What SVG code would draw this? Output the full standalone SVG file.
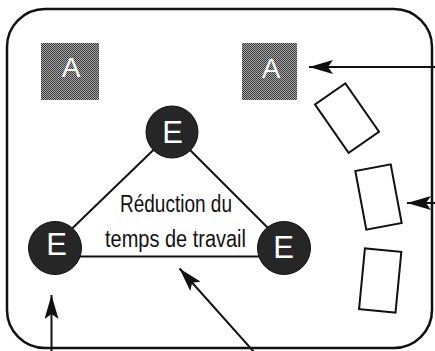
<svg xmlns="http://www.w3.org/2000/svg" width="435" height="351" viewBox="0 0 435 351">
  <style>
    .frame { fill: #fff; stroke: #111; stroke-width: 2.5; }
    .shade { fill: url(#stipple); }
    .alabel { font-family: "Liberation Sans", Arial, sans-serif; font-size: 28px; fill: #fff; text-anchor: middle; }
    .enode { fill: #262626; stroke: #111; stroke-width: 1; }
    .elabel { font-family: "Liberation Sans", Arial, sans-serif; font-size: 31px; fill: #fff; text-anchor: middle; }
    .edge { stroke: #111; stroke-width: 2; fill: none; }
    .arrow { stroke: #111; stroke-width: 2; fill: none; marker-end: url(#head); }
    .card { fill: #fff; stroke: #111; stroke-width: 2; }
    .caption { font-family: "Liberation Sans", Arial, sans-serif; font-size: 23px; fill: #111; text-anchor: middle; }
  </style>
  <defs>
    <pattern id="stipple" width="2" height="2" patternUnits="userSpaceOnUse">
      <rect width="2" height="2" fill="#a8a8a8"/>
      <rect width="1" height="1" fill="#3a3a3a"/>
      <rect x="1" y="1" width="1" height="1" fill="#3a3a3a"/>
    </pattern>
    <marker id="head" viewBox="0 0 24 14" refX="24" refY="7" markerWidth="24" markerHeight="14" markerUnits="userSpaceOnUse" orient="auto">
      <path d="M0,0 L24,7 L0,14 L5,7 z" fill="#111"/>
    </marker>
  </defs>

  <rect id="frame" class="frame" x="7" y="9" width="425" height="339" rx="38" ry="38"/>

  <g id="connectors">
    <line class="edge" x1="172" y1="132" x2="55" y2="245"/>
    <line class="edge" x1="172" y1="132" x2="284" y2="244"/>
    <line class="edge" x1="60" y1="256.5" x2="280" y2="256.5"/>
    <line class="arrow" x1="436" y1="67" x2="309" y2="67"/>
    <line class="arrow" x1="436" y1="203" x2="407" y2="203"/>
    <line class="arrow" x1="51.5" y1="352" x2="51.5" y2="295"/>
    <line class="arrow" x1="254" y1="352" x2="179.5" y2="268.5"/>
  </g>

  <g id="actor1">
    <rect class="shade" x="41" y="43" width="58" height="57"/>
    <text class="alabel" x="71" y="77">A</text>
  </g>
  <g id="actor2">
    <rect class="shade" x="242" y="43" width="55" height="57"/>
    <text class="alabel" x="271" y="78">A</text>
  </g>

  <g id="e-top">
    <circle class="enode" cx="172" cy="132" r="26"/>
    <text class="elabel" x="172.5" y="143">E</text>
  </g>
  <g id="e-left">
    <circle class="enode" cx="55" cy="248" r="26.5"/>
    <text class="elabel" x="56.5" y="255">E</text>
  </g>
  <g id="e-right">
    <circle class="enode" cx="284" cy="248" r="26.5"/>
    <text class="elabel" x="283.5" y="258">E</text>
  </g>

  <g id="caption">
    <text class="caption" x="176" y="212" textLength="112" lengthAdjust="spacingAndGlyphs">Réduction du</text>
    <text class="caption" x="175.5" y="247" textLength="141" lengthAdjust="spacingAndGlyphs">temps de travail</text>
  </g>

  <g id="card1">
    <rect class="card" x="-18.5" y="-29.5" width="37" height="59" transform="translate(347,118.2) rotate(-34.8)"/>
  </g>
  <g id="card2">
    <rect class="card" x="-18" y="-29.8" width="36" height="59.6" transform="translate(378.5,197) rotate(-10.6)"/>
  </g>
  <g id="card3">
    <rect class="card" x="-18.3" y="-30.5" width="36.6" height="61" transform="translate(380.2,280.5) rotate(5.5)"/>
  </g>
</svg>
